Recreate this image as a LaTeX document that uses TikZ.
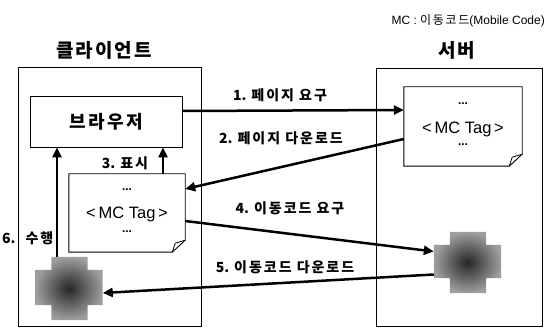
\documentclass[tikz,border=0pt]{standalone}
\usepackage{fontspec}
\setmainfont{Liberation Sans}
\newfontfamily\kr{Noto Sans CJK KR}
\newfontfamily\krs{Noto Sans CJK KR}[LetterSpace=14]
\newfontfamily\krt{Noto Sans CJK KR}[LetterSpace=10]
\usetikzlibrary{arrows.meta,calc}

\tikzset{
  frame/.style={draw, line width=0.9pt, rectangle, inner sep=0pt},
  doc/.style={rectangle, inner sep=0pt, align=center},
  arr/.style={line width=2.5pt, -{Triangle[length=10pt,width=9pt]}},
  lbl/.style={font=\kr\bfseries\fontsize{14}{16}\selectfont, inner sep=0pt},
  ttl/.style={font=\krt\bfseries\fontsize{19}{22}\selectfont, inner sep=0pt},
  mcspot/.style={rectangle, inner sep=0pt},
  dots/.style={inner sep=0pt, font=\bfseries\fontsize{12}{12}\selectfont},
  tag/.style={inner sep=0pt, font=\fontsize{16.5}{18}\selectfont},
}

% folded-corner page outline around a named node
\newcommand{\pageoutline}[2]{%
  \draw[line width=0.9pt] (#1.north west) -- (#1.north east)
    -- ($(#1.south east)+(0,-#2)$) -- ($(#1.south east)+(-#2-1,0)$)
    -- (#1.south west) -- cycle;
  \draw[line width=0.8pt] ($(#1.south east)+(-#2-1,0)$)
    -- ($(#1.south east)+(-#2+2,-#2+3)$) -- ($(#1.south east)+(0,-#2)$);
}

% mobile-code blob: a grey cross, darker in the middle
\newcommand{\mcblob}[1]{%
  \shade[inner color=black!85, outer color=black!38]
    ($(#1.north west)+(16,0)$) -- ($(#1.north east)+(-15,0)$)
    -- ($(#1.north east)+(-15,13)$) -- ($(#1.north east)+(0,13)$)
    -- ($(#1.south east)+(0,-15)$) -- ($(#1.south east)+(-15,-15)$)
    -- ($(#1.south east)+(-15,0)$) -- ($(#1.south west)+(16,0)$)
    -- ($(#1.south west)+(16,-15)$) -- ($(#1.south west)+(0,-15)$)
    -- ($(#1.north west)+(0,13)$) -- ($(#1.north west)+(16,13)$) -- cycle;
}

\begin{document}
\begin{tikzpicture}[x=1pt,y=-1pt]
\useasboundingbox (0,0) rectangle (546,328);

% legend and titles
\node[inner sep=0pt, anchor=east, font=\fontsize{12}{13}\selectfont] (legend) at (545,21)
  {MC : {\krs 이동코드}(Mobile Code)};
\node[ttl] (tclient) at (104,50) {클라이언트};
\node[ttl] (tserver) at (457,50) {서버};

% client and server frames
\node[frame, minimum width=183pt, minimum height=259pt] (client) at (109.5,197) {};
\node[frame, minimum width=166pt, minimum height=258pt] (server) at (459,197) {};

% browser
\node[frame, minimum width=152pt, minimum height=51pt,
      font=\krs\bfseries\fontsize{18}{20}\selectfont] (browser) at (106,121.5) {브라우저};

% pages carrying the MC tag
\node[doc, minimum width=118pt, minimum height=79pt] (sdoc) at (463,126.5) {};
\pageoutline{sdoc}{12}
\node[tag] (stag) at (463,129) {<\,MC Tag\,>};
\node[dots] (sdots1) at (463,104) {...};
\node[dots] (sdots2) at (463,145) {...};

\node[doc, minimum width=116pt, minimum height=78pt] (cdoc) at (127,213) {};
\pageoutline{cdoc}{12}
\node[tag] (ctag) at (127,214) {<\,MC Tag\,>};
\node[dots] (cdots1) at (127,190) {...};
\node[dots] (cdots2) at (127,232) {...};

% mobile code on both sides
\node[mcspot, minimum width=67pt, minimum height=61pt] (scross) at (467.5,262.5) {};
\mcblob{scross}
\node[mcspot, minimum width=67pt, minimum height=63pt] (ccross) at (69,288.5) {};
\mcblob{ccross}

% request / download arrows
\draw[arr] ([yshift=10.5pt]browser.east) -- ([yshift=16.5pt]sdoc.west);
\node[lbl] (l1) at (280,95) {1.\hspace{5pt}{\krs 페이지 요구}};

\draw[arr] ([yshift=-12.5pt]sdoc.west) -- ([yshift=24pt]cdoc.east);
\node[lbl] (l2) at (281,138) {2.\hspace{5pt}{\krs 페이지 다운로드}};

\coordinate (a3) at ([xshift=36pt]cdoc.north);
\draw[arr] (a3) -- (a3 |- browser.south);
\node[lbl] (l3) at (125,163) {3.\hspace{5pt}{\krs 표시}};

\draw[arr] ([yshift=-8pt]cdoc.east) -- ([yshift=11pt]scross.west);
\node[lbl] (l4) at (290,208) {4.\hspace{5pt}{\krs 이동코드 요구}};

\draw[arr] ([yshift=-12pt]scross.west) -- ([yshift=-4.5pt]ccross.east);
\node[lbl] (l5) at (285,267) {5.\hspace{5pt}{\krs 이동코드 다운로드}};

\coordinate (a6) at ([xshift=-12pt]ccross.north);
\draw[arr] (a6) -- (a6 |- browser.south);
\node[lbl, anchor=west] (l6) at (2,238) {6.\hspace{10pt}{\krs 수행}};

\end{tikzpicture}
\end{document}
